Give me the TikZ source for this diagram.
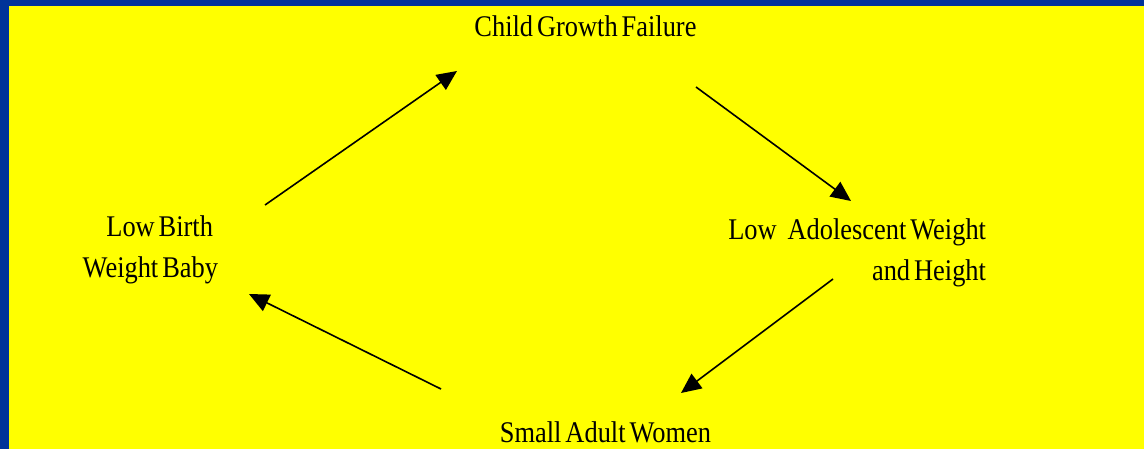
\documentclass[tikz,border=0pt]{standalone}
\usepackage{fontspec}
\setmainfont{Liberation Serif}[FakeStretch=0.88,WordSpace=0.6]
\usetikzlibrary{arrows.meta}
\definecolor{slideblue}{RGB}{0,51,153}
\definecolor{slideyellow}{RGB}{255,255,0}
\tikzset{
  lbl/.style={inner sep=0pt, outer sep=0pt, text=black, font={\fontsize{30}{41}\selectfont}},
  cyc/.style={draw=black, line width=1.6pt, -{Triangle[length=20pt,width=18pt]}}
}
\begin{document}
\begin{tikzpicture}[x=1pt,y=-1pt]
\useasboundingbox (0,0) rectangle (1144,449);
\fill[slideblue] (0,0) rectangle (1144,449);
\fill[slideyellow] (9,6) rectangle (1144,449);

\node[lbl, anchor=base] (cgf) at (585.5,37) {Child Growth Failure};
\node[lbl, anchor=base east, align=right] (lbw) at (218,278) {Low Birth\hspace*{5pt}\\Weight Baby};
\node[lbl, anchor=base east, align=right] (law) at (986,281) {Low\hspace{11pt}Adolescent Weight\\and Height};
\node[lbl, anchor=base] (saw) at (605.5,442) {Small Adult Women};

\coordinate (s1) at (265,205); \coordinate (e1) at (457,71);
\coordinate (s2) at (696,87);  \coordinate (e2) at (851,201);
\coordinate (s3) at (833,279); \coordinate (e3) at (681,393);
\coordinate (s4) at (441,389); \coordinate (e4) at (249,294);

\draw[cyc] (s1) -- (e1);
\draw[cyc] (s2) -- (e2);
\draw[cyc] (s3) -- (e3);
\draw[cyc] (s4) -- (e4);
\end{tikzpicture}
\end{document}
